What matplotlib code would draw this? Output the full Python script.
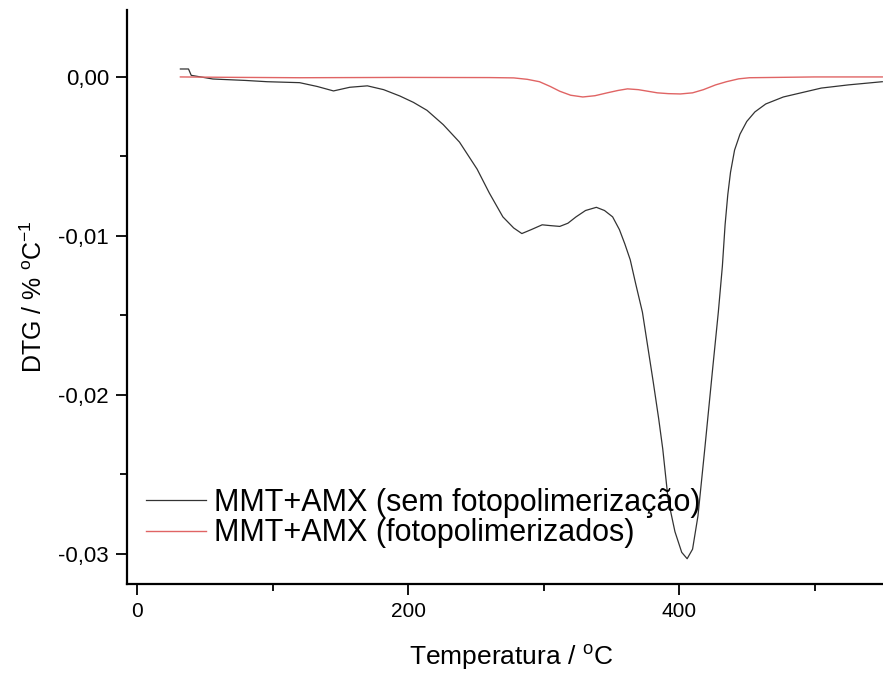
import numpy as np
import matplotlib.pyplot as plt
from matplotlib.ticker import MultipleLocator, FuncFormatter

plt.rcParams['font.family'] = ['Liberation Sans', 'DejaVu Sans']
plt.rcParams['mathtext.fontset'] = 'custom'
plt.rcParams['mathtext.rm'] = 'Liberation Sans'

# curva sem fotopolimerizacao
t_sem = [32, 38, 40, 56, 80, 96, 120, 133, 145, 157, 170, 182, 194, 204, 214,
         226, 238, 251, 260, 270, 278, 284, 291, 299, 305, 312, 318, 324, 331,
         339, 345, 351, 356, 360, 364, 368, 373, 377, 381, 385, 388, 392, 397,
         402, 406, 410, 414, 419, 425, 429, 432, 434, 436, 438, 441, 445, 450,
         456, 464, 477, 490, 505, 525, 550]
dtg_sem = [0.0005, 0.0005, 0.0001, -0.00013, -0.00022, -0.0003, -0.00036,
           -0.0006, -0.00088, -0.00065, -0.00056, -0.0008, -0.0012, -0.0016,
           -0.0021, -0.0030, -0.0041, -0.0058, -0.0073, -0.0088, -0.0095,
           -0.00985, -0.0096, -0.0093, -0.00935, -0.0094, -0.0092, -0.0088,
           -0.0084, -0.0082, -0.0084, -0.0088, -0.0096, -0.0105, -0.0115,
           -0.0130, -0.0148, -0.0170, -0.0192, -0.0215, -0.0234, -0.0266,
           -0.0286, -0.0299, -0.0303, -0.0297, -0.0276, -0.0234, -0.0182,
           -0.0148, -0.0119, -0.0093, -0.0074, -0.0060, -0.0046, -0.0036,
           -0.0028, -0.0022, -0.0017, -0.00126, -0.0010, -0.0007, -0.0005,
           -0.0003]

# curva fotopolimerizados
t_foto = [32, 60, 120, 194, 260, 278, 288, 297, 305, 312, 320, 329, 338, 347,
          355, 362, 370, 377, 384, 392, 401, 410, 418, 427, 435, 444, 452, 500,
          550]
dtg_foto = [0.0, -0.00002, -0.00005, -0.00003, -0.00004, -0.00006, -0.00015,
            -0.0003, -0.0006, -0.0009, -0.00115, -0.00126, -0.00118, -0.001,
            -0.00085, -0.00075, -0.0008, -0.0009, -0.001, -0.00105, -0.00107,
            -0.001, -0.0008, -0.0005, -0.0003, -0.00012, -0.00005, 0.0, 0.0]

fig = plt.figure(figsize=(8.83, 6.73), dpi=100)
ax = fig.add_axes([127 / 883, 89 / 673, 768 / 883, 574 / 673])

ax.plot(t_sem, dtg_sem, color='#333333', lw=0.9,
        label='MMT+AMX (sem fotopolimerização)')
ax.plot(t_foto, dtg_foto, color='#e06464', lw=1.0,
        label='MMT+AMX (fotopolimerizados)')

ax.set_xlim(-7.4, 559.4)
ax.set_ylim(-0.03189, 0.00421)

ax.spines['top'].set_visible(False)
ax.spines['right'].set_visible(False)
for s in ['left', 'bottom']:
    ax.spines[s].set_linewidth(1.6)

ax.xaxis.set_major_locator(MultipleLocator(200))
ax.xaxis.set_minor_locator(MultipleLocator(100))
ax.yaxis.set_major_locator(MultipleLocator(0.01))
ax.yaxis.set_minor_locator(MultipleLocator(0.005))
ax.yaxis.set_major_formatter(FuncFormatter(lambda v, p: ('%.2f' % v).replace('.', ',').replace('-0,00', '0,00')))

ax.tick_params(which='major', direction='out', length=8, width=1.3, pad=5)
ax.tick_params(which='minor', direction='out', length=5, width=1.3)
ax.tick_params(axis='x', labelsize=15)
ax.tick_params(axis='y', labelsize=16)

ax.set_xlabel('Temperatura / $^\\mathregular{o}$C', fontsize=19, labelpad=15)
ax.set_ylabel('DTG / % $^\\mathregular{o}$C$^\\mathregular{-1}$', fontsize=18, labelpad=8)

ax.legend(loc='lower left', bbox_to_anchor=(0.025, 0.062), frameon=False,
          fontsize=22, handlelength=1.96, handletextpad=0.26, labelspacing=0.02,
          borderpad=0, borderaxespad=0)

fig.savefig('out.png', dpi=100)
